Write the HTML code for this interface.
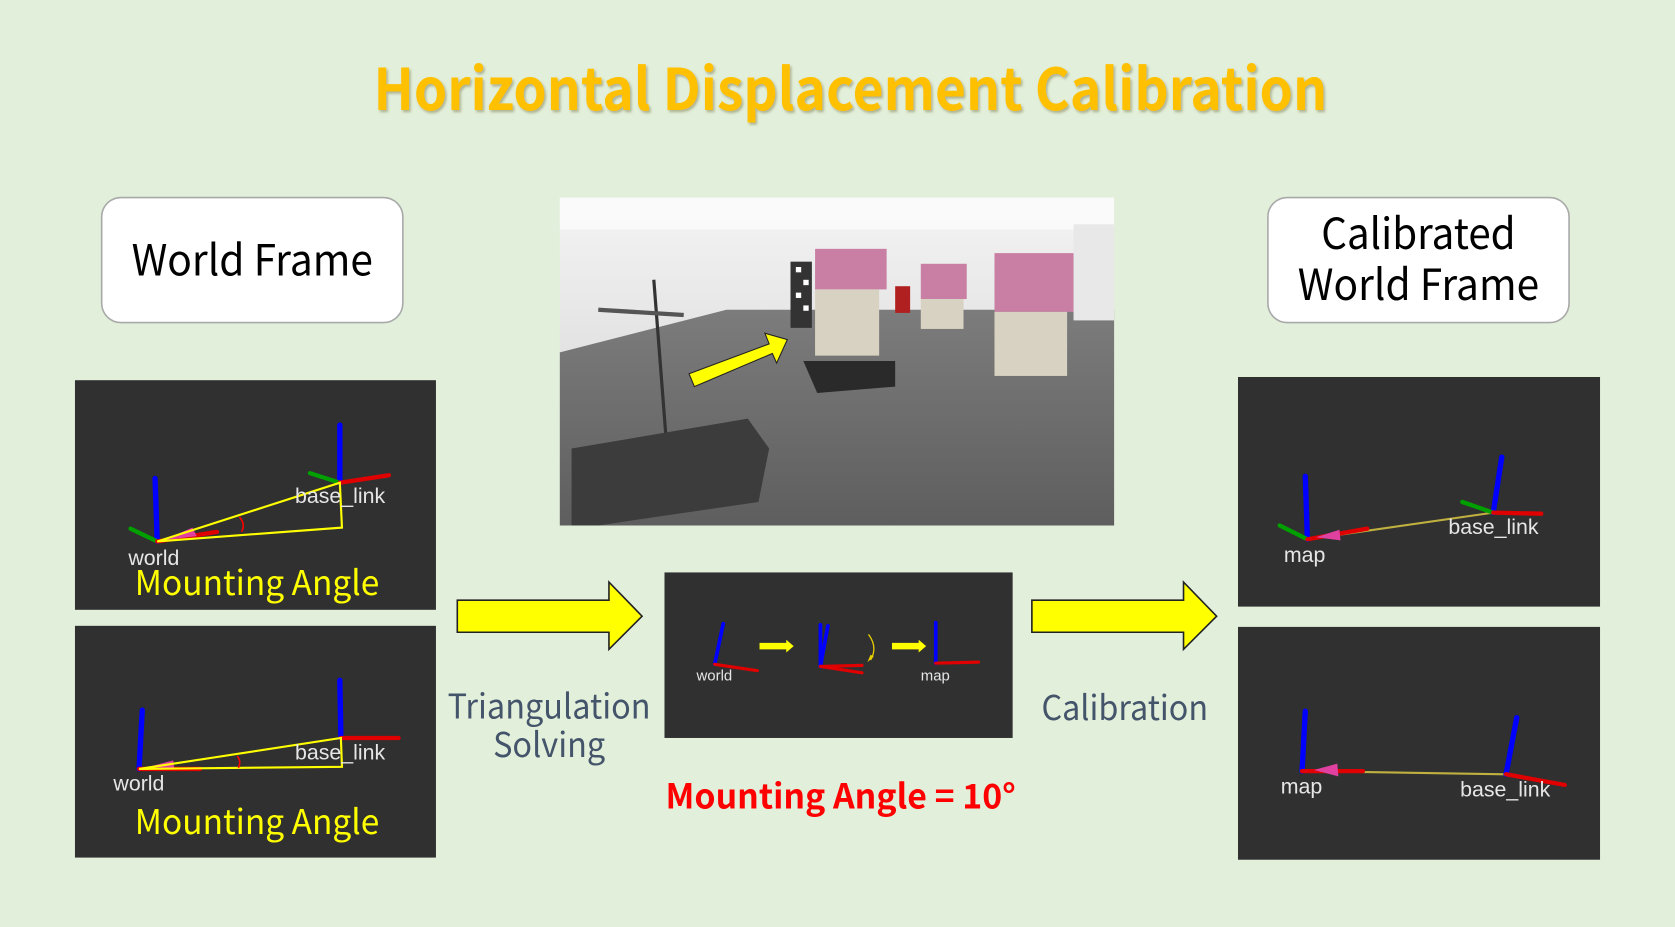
<!DOCTYPE html>
<html><head><meta charset="utf-8"><style>
html,body{margin:0;padding:0;background:#e2efda;}
svg{display:block}
.h{font-family:"Noto Sans CJK SC","Liberation Sans",sans-serif}
.r{font-family:"Liberation Sans",sans-serif;fill:#e6e6e6}
</style></head><body>
<svg width="1675" height="927" viewBox="0 0 1568 868" xmlns="http://www.w3.org/2000/svg">
<defs>
<filter id="sh"><feDropShadow dx="1.5" dy="2" stdDeviation="1.2" flood-color="#8a8a60" flood-opacity="0.6"/></filter>
<linearGradient id="wall" x1="0" y1="0" x2="0" y2="1"><stop offset="0" stop-color="#f4f4f4"/><stop offset="1" stop-color="#cfcfcf"/></linearGradient>
<linearGradient id="floor" x1="0" y1="0" x2="0" y2="1"><stop offset="0" stop-color="#7c7c7c"/><stop offset="1" stop-color="#5e5e5e"/></linearGradient>
</defs>
<rect width="1568" height="868" fill="#e2efda"/>
<text class="h" x="796" y="103" text-anchor="middle" font-size="54" font-weight="bold" fill="#ffc000" filter="url(#sh)" textLength="893" lengthAdjust="spacingAndGlyphs">Horizontal Displacement Calibration</text>

<rect x="95" y="185" width="282" height="117" rx="18" fill="#fff" stroke="#a9a9a9" stroke-width="1.5"/>
<text class="h" x="236" y="258" text-anchor="middle" font-size="40" fill="#000" textLength="226" lengthAdjust="spacingAndGlyphs">World Frame</text>
<rect x="1187" y="185" width="282" height="117" rx="18" fill="#fff" stroke="#a9a9a9" stroke-width="1.5"/>
<text class="h" x="1328" y="233" text-anchor="middle" font-size="40" fill="#000" textLength="182" lengthAdjust="spacingAndGlyphs">Calibrated</text>
<text class="h" x="1328" y="281" text-anchor="middle" font-size="40" fill="#000" textLength="226" lengthAdjust="spacingAndGlyphs">World Frame</text>

<!-- photo -->
<g>
<rect x="524" y="185" width="519" height="307" fill="url(#wall)"/>
<rect x="524" y="185" width="519" height="30" fill="#fafafa"/>
<polygon points="524,330 680,290 1043,290 1043,492 524,492" fill="url(#floor)"/>
<rect x="740" y="245" width="20" height="62" fill="#333"/>
<rect x="745" y="250" width="5" height="5" fill="#fff"/><rect x="752" y="262" width="5" height="5" fill="#fff"/><rect x="745" y="274" width="5" height="5" fill="#fff"/><rect x="752" y="286" width="5" height="5" fill="#fff"/>
<rect x="763" y="233" width="67" height="38" fill="#c97fa4"/>
<rect x="763" y="271" width="60" height="62" fill="#d8d2c2"/>
<rect x="862" y="247" width="43" height="33" fill="#c97fa4"/>
<rect x="862" y="280" width="40" height="28" fill="#d8d2c2"/>
<rect x="931" y="237" width="76" height="55" fill="#c97fa4"/>
<rect x="931" y="292" width="68" height="60" fill="#d8d2c2"/>
<rect x="838" y="268" width="14" height="25" fill="#b02020"/>
<polygon points="752,338 838,338 838,362 765,368" fill="#2a2a2a"/>
<line x1="612" y1="262" x2="625" y2="430" stroke="#333" stroke-width="3"/>
<line x1="560" y1="290" x2="640" y2="295" stroke="#555" stroke-width="4"/>
<polygon points="535,420 700,392 720,420 710,470 560,492 535,492" fill="#3c3c3c"/>
<rect x="1005" y="210" width="38" height="90" fill="#e8e8e8"/>
<polygon points="645,350 720,322 716,312 737,318 727,340 723,331 650,362" fill="#ffff00" stroke="#222" stroke-width="1"/>
</g>

<!-- left top panel -->
<rect x="70" y="356" width="338" height="215" fill="#303030"/>
<g stroke-linecap="round">
<line x1="147" y1="507" x2="145" y2="448" stroke="#0000ff" stroke-width="5"/>
<line x1="147" y1="507" x2="122" y2="495" stroke="#00a000" stroke-width="4"/>
<line x1="147" y1="507" x2="203" y2="498" stroke="#e00000" stroke-width="4"/>
<polygon points="152,506 180,494 184,502" fill="#e040a0"/>
<line x1="318" y1="452" x2="318" y2="398" stroke="#0000ff" stroke-width="5"/>
<line x1="318" y1="452" x2="290" y2="443" stroke="#00a000" stroke-width="4"/>
<line x1="318" y1="452" x2="364" y2="445" stroke="#e00000" stroke-width="4"/>
</g>
<polygon points="147,507 318,452 320,494" fill="none" stroke="#ffff00" stroke-width="2"/>
<path d="M224,484 Q230,491 226,498" fill="none" stroke="#ff0000" stroke-width="1.5"/>
<text class="r" x="276" y="471" font-size="20">base_link</text>
<text class="r" x="120" y="529" font-size="20">world</text>
<text class="h" x="126" y="557" font-size="32" fill="#ffff00" textLength="229" lengthAdjust="spacingAndGlyphs">Mounting Angle</text>

<!-- left bottom panel -->
<rect x="70" y="586" width="338" height="217" fill="#303030"/>
<g stroke-linecap="round">
<line x1="130" y1="720" x2="133" y2="665" stroke="#0000ff" stroke-width="5"/>
<line x1="130" y1="720" x2="187" y2="720" stroke="#e00000" stroke-width="4"/>
<polygon points="135,719 162,712 163,719" fill="#e040a0"/>
<line x1="319" y1="691" x2="318" y2="637" stroke="#0000ff" stroke-width="5"/>
<line x1="319" y1="691" x2="373" y2="691" stroke="#e00000" stroke-width="4"/>
</g>
<polygon points="130,720 319,691 320,718" fill="none" stroke="#ffff00" stroke-width="2"/>
<path d="M222,708 Q226,713 223,719" fill="none" stroke="#ff0000" stroke-width="1.5"/>
<text class="r" x="276" y="711" font-size="20">base_link</text>
<text class="r" x="106" y="740" font-size="20">world</text>
<text class="h" x="126" y="781" font-size="32" fill="#ffff00" textLength="229" lengthAdjust="spacingAndGlyphs">Mounting Angle</text>

<!-- big arrows -->
<polygon points="428,562 570,562 570,545 601,577 570,608 570,592 428,592" fill="#ffff00" stroke="#222" stroke-width="1.5"/>
<polygon points="966,562 1108,562 1108,545 1139,577 1108,608 1108,592 966,592" fill="#ffff00" stroke="#222" stroke-width="1.5"/>
<text class="h" x="514" y="673" text-anchor="middle" font-size="32" fill="#44546a" textLength="190" lengthAdjust="spacingAndGlyphs">Triangulation</text>
<text class="h" x="514" y="709" text-anchor="middle" font-size="32" fill="#44546a" textLength="105" lengthAdjust="spacingAndGlyphs">Solving</text>
<text class="h" x="1053" y="674" text-anchor="middle" font-size="32" fill="#44546a" textLength="156" lengthAdjust="spacingAndGlyphs">Calibration</text>

<!-- middle panel -->
<rect x="622" y="536" width="326" height="155" fill="#303030"/>
<g stroke-linecap="round">
<line x1="669" y1="622" x2="677" y2="584" stroke="#0000ff" stroke-width="3.5"/>
<line x1="669" y1="622" x2="709" y2="628" stroke="#e00000" stroke-width="3"/>
<line x1="768" y1="624" x2="768" y2="585" stroke="#0000ff" stroke-width="3.5"/>
<line x1="768" y1="624" x2="775" y2="586" stroke="#0000ff" stroke-width="3.5"/>
<line x1="768" y1="624" x2="807" y2="623" stroke="#e00000" stroke-width="3"/>
<line x1="768" y1="624" x2="807" y2="630" stroke="#e00000" stroke-width="3"/>
<line x1="876" y1="621" x2="876" y2="583" stroke="#0000ff" stroke-width="3.5"/>
<line x1="876" y1="621" x2="916" y2="620" stroke="#e00000" stroke-width="3"/>
</g>
<polygon points="711,602 736,602 736,599 743,605 736,611 736,608 711,608" fill="#ffff00"/>
<polygon points="835,602 860,602 860,599 867,605 860,611 860,608 835,608" fill="#ffff00"/>
<path d="M813,594 Q822,606 815,618" fill="none" stroke="#e8d000" stroke-width="1.2"/>
<polygon points="812,620 818,615 815,613" fill="#e8d000"/>
<text class="r" x="652" y="637" font-size="14">world</text>
<text class="r" x="862" y="637" font-size="14">map</text>
<text class="h" x="787" y="757" text-anchor="middle" font-size="32" font-weight="bold" fill="#ff0000" textLength="328" lengthAdjust="spacingAndGlyphs">Mounting Angle = 10°</text>

<!-- right top panel -->
<rect x="1159" y="353" width="339" height="215" fill="#303030"/>
<line x1="1224" y1="505" x2="1398" y2="480" stroke="#c0b040" stroke-width="2"/>
<g stroke-linecap="round">
<line x1="1224" y1="505" x2="1222" y2="446" stroke="#0000ff" stroke-width="5"/>
<line x1="1224" y1="505" x2="1198" y2="492" stroke="#00a000" stroke-width="4"/>
<line x1="1224" y1="505" x2="1280" y2="495" stroke="#e00000" stroke-width="4"/>
<polygon points="1232,503 1254,496 1255,506" fill="#e040a0"/>
<line x1="1398" y1="480" x2="1406" y2="428" stroke="#0000ff" stroke-width="5"/>
<line x1="1398" y1="480" x2="1369" y2="470" stroke="#00a000" stroke-width="4"/>
<line x1="1398" y1="480" x2="1443" y2="481" stroke="#e00000" stroke-width="4"/>
</g>
<text class="r" x="1356" y="500" font-size="20">base_link</text>
<text class="r" x="1202" y="526" font-size="20">map</text>

<!-- right bottom panel -->
<rect x="1159" y="587" width="339" height="218" fill="#303030"/>
<line x1="1219" y1="722" x2="1410" y2="725" stroke="#c0b040" stroke-width="2"/>
<g stroke-linecap="round">
<line x1="1219" y1="722" x2="1222" y2="666" stroke="#0000ff" stroke-width="5"/>
<line x1="1219" y1="722" x2="1276" y2="722" stroke="#e00000" stroke-width="4"/>
<polygon points="1230,721 1252,715 1253,727" fill="#e040a0"/>
<line x1="1410" y1="725" x2="1420" y2="672" stroke="#0000ff" stroke-width="5"/>
<line x1="1410" y1="725" x2="1465" y2="735" stroke="#e00000" stroke-width="4"/>
</g>
<text class="r" x="1199" y="743" font-size="20">map</text>
<text class="r" x="1367" y="746" font-size="20">base_link</text>
</svg>
</body></html>
